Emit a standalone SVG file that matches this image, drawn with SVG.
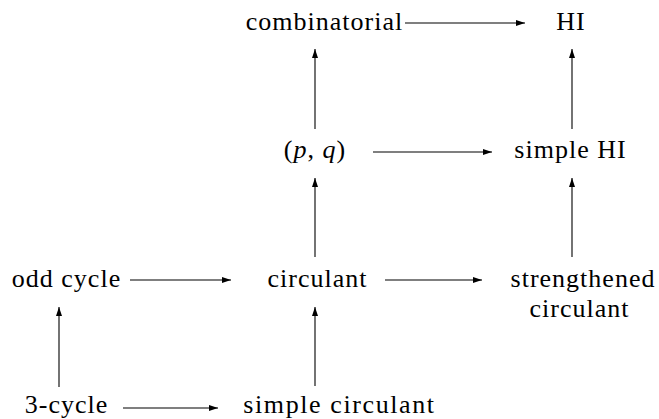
<svg xmlns="http://www.w3.org/2000/svg" width="659" height="419" viewBox="0 0 659 419">
<defs>
<style>
text{font-family:'Liberation Serif',serif;font-size:26px;letter-spacing:1px;fill:#000;text-anchor:middle}
.c line{stroke:#000;stroke-width:1.1;marker-end:url(#ah)}
</style>
<marker id="ah" markerUnits="userSpaceOnUse" markerWidth="10" markerHeight="7" refX="9" refY="3" orient="auto">
<path d="M0,0 L9,3 L0,6 z" fill="#000"/>
</marker>
</defs>
<rect width="659" height="419" fill="#fff"/>
<g id="combinatorial"><text x="324.5" y="30">combinatorial</text></g>
<g id="HI"><text x="571" y="30">HI</text></g>
<g id="pq"><text x="315" y="158">(<tspan font-style="italic">p</tspan>, <tspan font-style="italic">q</tspan>)</text></g>
<g id="simpleHI"><text x="570.5" y="158">simple HI</text></g>
<g id="oddcycle"><text x="66.5" y="287">odd cycle</text></g>
<g id="circulant"><text x="317.5" y="287">circulant</text></g>
<g id="strengthened"><text x="583" y="287">strengthened</text><text x="579.5" y="317">circulant</text></g>
<g id="threecycle"><text x="66.5" y="413">3-cycle</text></g>
<g id="simplecirculant"><text x="339.5" y="413" style="letter-spacing:1.6px">simple circulant</text></g>
<g class="c" id="connectors">
<line x1="405" y1="23" x2="525" y2="23"/>
<line x1="373" y1="152" x2="492" y2="152"/>
<line x1="130" y1="280" x2="231" y2="280"/>
<line x1="385" y1="280" x2="482" y2="280"/>
<line x1="123" y1="408" x2="218" y2="408"/>
<line x1="315" y1="129" x2="315" y2="49"/>
<line x1="315" y1="257" x2="315" y2="178"/>
<line x1="315" y1="386" x2="315" y2="307"/>
<line x1="59" y1="387" x2="59" y2="307"/>
<line x1="572" y1="129" x2="572" y2="49"/>
<line x1="572" y1="257" x2="572" y2="178"/>
</g>
</svg>
